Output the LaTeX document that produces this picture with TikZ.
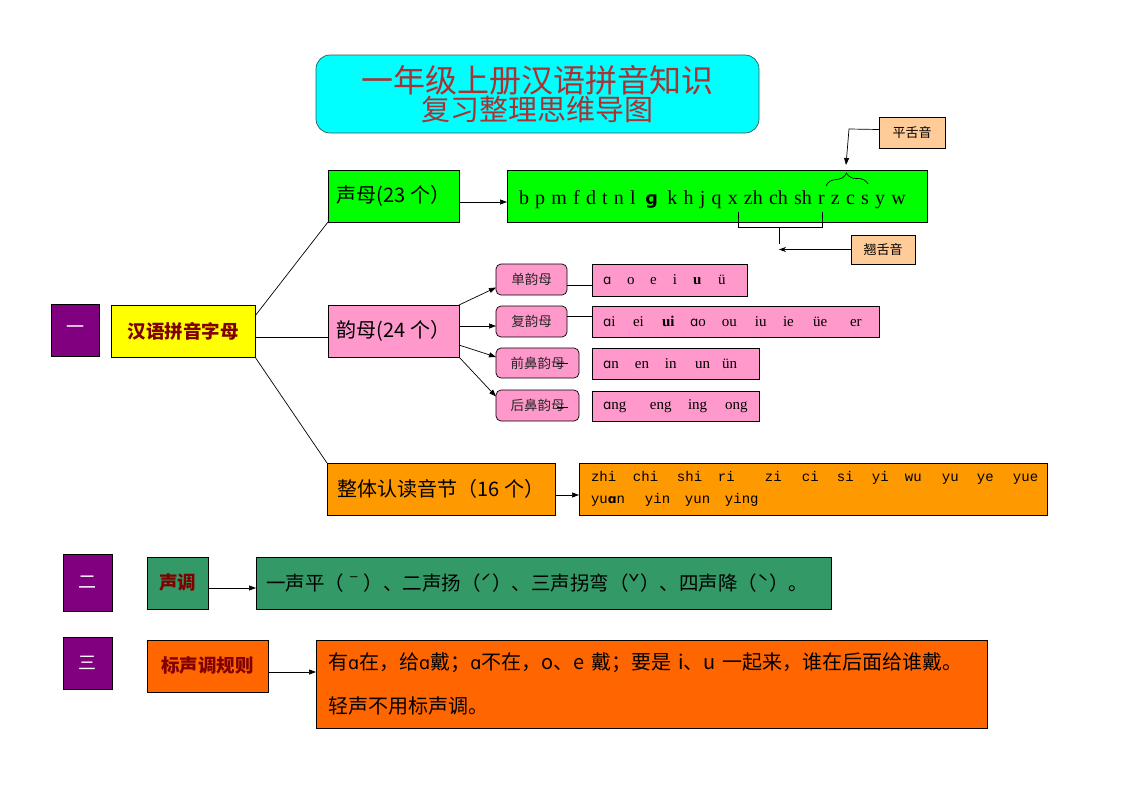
\documentclass[tikz,border=0pt]{standalone}
\usepackage{fontspec}
\setmainfont{Liberation Serif}
\newfontfamily\cjk{Noto Sans CJK SC}
\newfontfamily\dejav{DejaVu Sans}[Scale=0.88]
\newfontfamily\monof{Liberation Mono}
\usetikzlibrary{arrows.meta,decorations.pathreplacing}
\definecolor{cyanbox}{RGB}{0,255,255}
\definecolor{titleedge}{RGB}{40,90,90}
\definecolor{titlered}{RGB}{170,50,50}
\definecolor{gbox}{RGB}{0,255,0}
\definecolor{pbox}{RGB}{255,153,204}
\definecolor{obox}{RGB}{255,153,0}
\definecolor{peach}{RGB}{255,204,153}
\definecolor{purp}{RGB}{128,0,128}
\definecolor{ybox}{RGB}{255,255,0}
\definecolor{sgreen}{RGB}{51,153,102}
\definecolor{dorange}{RGB}{255,102,0}
\definecolor{dred}{RGB}{128,0,0}
\definecolor{dgray}{RGB}{40,40,40}
\newcommand{\zw}[2]{\rlap{\hspace*{#1pt}#2}}
\newcommand{\sa}{{\dejav ɑ}}
\begin{document}
\begin{tikzpicture}[x=1pt,y=-1pt,
  box/.style={draw=black, line width=0.7pt, anchor=north west, inner sep=0pt, outer sep=0pt},
  rbox/.style={box, rounded corners=5pt, fill=pbox, font=\cjk\fontsize{13.5}{16}\selectfont, text=dgray},
  pinbox/.style={box, fill=pbox, inner xsep=11pt, font=\fontsize{15}{18}\selectfont},
  numbox/.style={box, fill=purp, text=white, font=\cjk\fontsize{18}{20}\selectfont},
  headbox/.style={box, font=\cjk\bfseries\fontsize{18.5}{20}\selectfont, text=dred},
  tagbox/.style={box, fill=peach, font=\cjk\fontsize{13}{16}\selectfont},
  arr/.style={line width=0.7pt, -{Triangle[length=7pt,width=5pt]}},
  ln/.style={line width=0.7pt}]
\useasboundingbox[fill=white] (0,0) rectangle (1122,793);

% title
\node[box, fill=cyanbox, draw=titleedge, rounded corners=14pt, minimum width=443pt, minimum height=78pt, align=center, text=titlered, font=\cjk\fontsize{30}{28}\selectfont] (title) at (316,55)
  {{\fontsize{32}{29}\selectfont 一年级上册汉语拼音知识}\\{\fontsize{29}{29}\selectfont 复习整理思维导图}};

% section one
\node[numbox, minimum width=48pt, minimum height=52pt] (n1) at (51,304) {一};
\node[headbox, fill=ybox, minimum width=144pt, minimum height=52pt] (hy) at (111,305) {汉语拼音字母};

\node[box, fill=gbox, minimum width=131pt, minimum height=52pt, font=\cjk\fontsize{20}{24}\selectfont] (sm) at (328,170) {声母(23 个）};
\node[box, fill=gbox, minimum width=420pt, minimum height=52pt, inner xsep=12pt, font=\fontsize{20}{24}\selectfont] (bp) at (507,170)
  {\raisebox{-4pt}[\height][\depth]{\makebox[396pt][l]{\spaceskip=6.2pt plus 0pt b p m f d t n l \,{\dejav\bfseries\fontsize{20}{20}\selectfont ɡ}\, k h j q x zh ch sh r z c s y w}}};
\node[tagbox, minimum width=66pt, minimum height=31pt] (pt) at (879,117) {平舌音};
\node[tagbox, minimum width=64pt, minimum height=29pt] (qt) at (851,235) {翘舌音};

\node[box, fill=pbox, minimum width=131pt, minimum height=52pt, font=\cjk\fontsize{20}{24}\selectfont] (ym) at (328,305) {韵母(24 个）};
\node[rbox, minimum width=71pt, minimum height=31pt] (dy) at (496,264) {单韵母};
\node[rbox, minimum width=71pt, minimum height=31pt] (fy) at (496,306) {复韵母};
\node[rbox, minimum width=83pt, minimum height=30pt] (qb) at (496,348) {前鼻韵母};
\node[rbox, minimum width=83pt, minimum height=31pt] (hb) at (496,390) {后鼻韵母};

\node[pinbox, minimum width=155pt, minimum height=32pt] (r1) at (592,264)
  {\makebox[133pt][l]{\zw{0}{\sa}\zw{24}{o}\zw{47}{e}\zw{70}{i}\zw{90}{\bfseries u}\zw{115}{ü}}};
\node[pinbox, minimum width=287pt, minimum height=31pt] (r2) at (592,306)
  {\makebox[265pt][l]{\zw{0}{\sa i}\zw{30}{ei}\zw{59}{\bfseries ui}\zw{87}{\sa o}\zw{119}{ou}\zw{152}{iu}\zw{180}{ie}\zw{210}{üe}\zw{247}{er}}};
\node[pinbox, minimum width=167pt, minimum height=31pt] (r3) at (592,348)
  {\makebox[145pt][l]{\zw{0}{\sa n}\zw{32}{en}\zw{62}{in}\zw{92}{un}\zw{119}{ün}}};
\node[pinbox, minimum width=167pt, minimum height=30pt] (r4) at (592,391)
  {\makebox[145pt][l]{\zw{0}{\sa ng}\zw{47}{eng}\zw{85}{ing}\zw{122}{ong}}};

\node[box, fill=obox, minimum width=228pt, minimum height=52pt, font=\cjk\fontsize{20}{24}\selectfont] (zt) at (327,463) {整体认读音节（16 个）};
\node[box, fill=obox, minimum width=468pt, minimum height=52pt, inner xsep=12pt, align=left, text width=444pt, font=\monof\fontsize{14}{22}\selectfont] (zc) at (579,463)
  {\makebox[444pt][l]{\zw{0}{zhi}\zw{42}{chi}\zw{86}{shi}\zw{127}{ri}\zw{174}{zi}\zw{211}{ci}\zw{246}{si}\zw{281}{yi}\zw{314}{wu}\zw{351}{yu}\zw{386}{ye}\zw{422}{yue}}\\
   \makebox[444pt][l]{\zw{0}{yu{\dejav\bfseries ɑ}n}\zw{54}{yin}\zw{94}{yun}\zw{134}{ying}}};

% section two
\node[numbox, minimum width=49pt, minimum height=57pt] (n2) at (63,554) {二};
\node[headbox, fill=sgreen, minimum width=61pt, minimum height=52pt] (sd) at (147,557) {声调};
\node[box, fill=sgreen, minimum width=575pt, minimum height=52pt, inner xsep=10pt, font=\cjk\fontsize{19.5}{24}\selectfont] (sdt) at (256,557)
  {\makebox[555pt][l]{一声平（ˉ）、二声扬（ˊ）、三声拐弯（ˇ）、四声降（ˋ）。}};

% section three
\node[numbox, minimum width=49pt, minimum height=52pt] (n3) at (63,637) {三};
\node[headbox, fill=dorange, minimum width=121pt, minimum height=52pt] (bs) at (147,640) {标声调规则};
\node[box, fill=dorange, minimum width=671pt, minimum height=88pt, inner xsep=12pt, align=left, text width=647pt, font=\cjk\fontsize{20}{44}\selectfont] (rule) at (316,640)
  {\makebox[647pt][l]{有\sa 在，给\sa 戴；\sa 不在，o、e 戴；要是 i、u 一起来，谁在后面给谁戴。}\\
   \makebox[647pt][l]{轻声不用标声调。}};

% connectors section one
\draw[ln] ([yshift=-11pt]hy.north east) -- (sm.south west);
\draw[ln] ([yshift=-6pt]hy.east) -- ([yshift=-6pt]ym.west);
\draw[ln] (hy.south east) -- (zt.north west);
\draw[arr] ([yshift=-6pt]sm.east) -- ([yshift=-6pt]bp.west);
\draw[arr] ([yshift=-6pt]zt.east) -- ([yshift=-6pt]zc.west);

\draw[arr] (ym.north east) -- ([yshift=-8pt]dy.west);
\draw[arr] ([yshift=-21pt]ym.north east) -- ([yshift=-4.5pt]fy.west);
\draw[arr] ([yshift=-40pt]ym.north east) -- ([yshift=6pt]qb.west);
\draw[arr] (ym.south east) -- ([yshift=9pt]hb.west);

\draw[ln] ([yshift=-6pt]dy.east) -- ([yshift=-6pt]dy.east -| r1.west);
\draw[ln] ([yshift=5pt]fy.east) -- ([yshift=5pt]fy.east -| r2.west);
\coordinate (qs1) at (557,363); \coordinate (qs2) at (568,363);
\coordinate (hs1) at (557,407); \coordinate (hs2) at (568,407);
\draw[ln] (qs1) -- (qs2);
\draw[ln] (hs1) -- (hs2);

% connectors sections two and three
\draw[arr] ([yshift=-5pt]sd.east) -- ([yshift=-5pt]sd.east -| sdt.west);
\draw[arr] ([yshift=-6pt]bs.east) -- ([yshift=-6pt]bs.east -| rule.west);

% bracket zh ch sh r
\coordinate (qa) at (738,212);
\coordinate (qbr) at (822,212);
\coordinate (qm) at (779,227);
\coordinate (qe) at (779,244);
\draw[ln] (qa) -- ++(0,15) -| (qbr);
\draw[ln] (qm) -- (qe);
\draw[line width=0.6pt, -{Stealth[length=7pt,width=5pt]}] (qt.west) -- (qt.west -| qm);

% brace z c s
\coordinate (bl) at (826,186);
\coordinate (br) at (868,184);
\draw[ln, decorate, decoration={brace, amplitude=12pt}] (bl) -- (br);
\coordinate (pk) at (849,129);
\coordinate (ptip) at (846,165);
\draw[arr] ([yshift=3pt]pt.west) -- (pk) -- (ptip);
\end{tikzpicture}
\end{document}
